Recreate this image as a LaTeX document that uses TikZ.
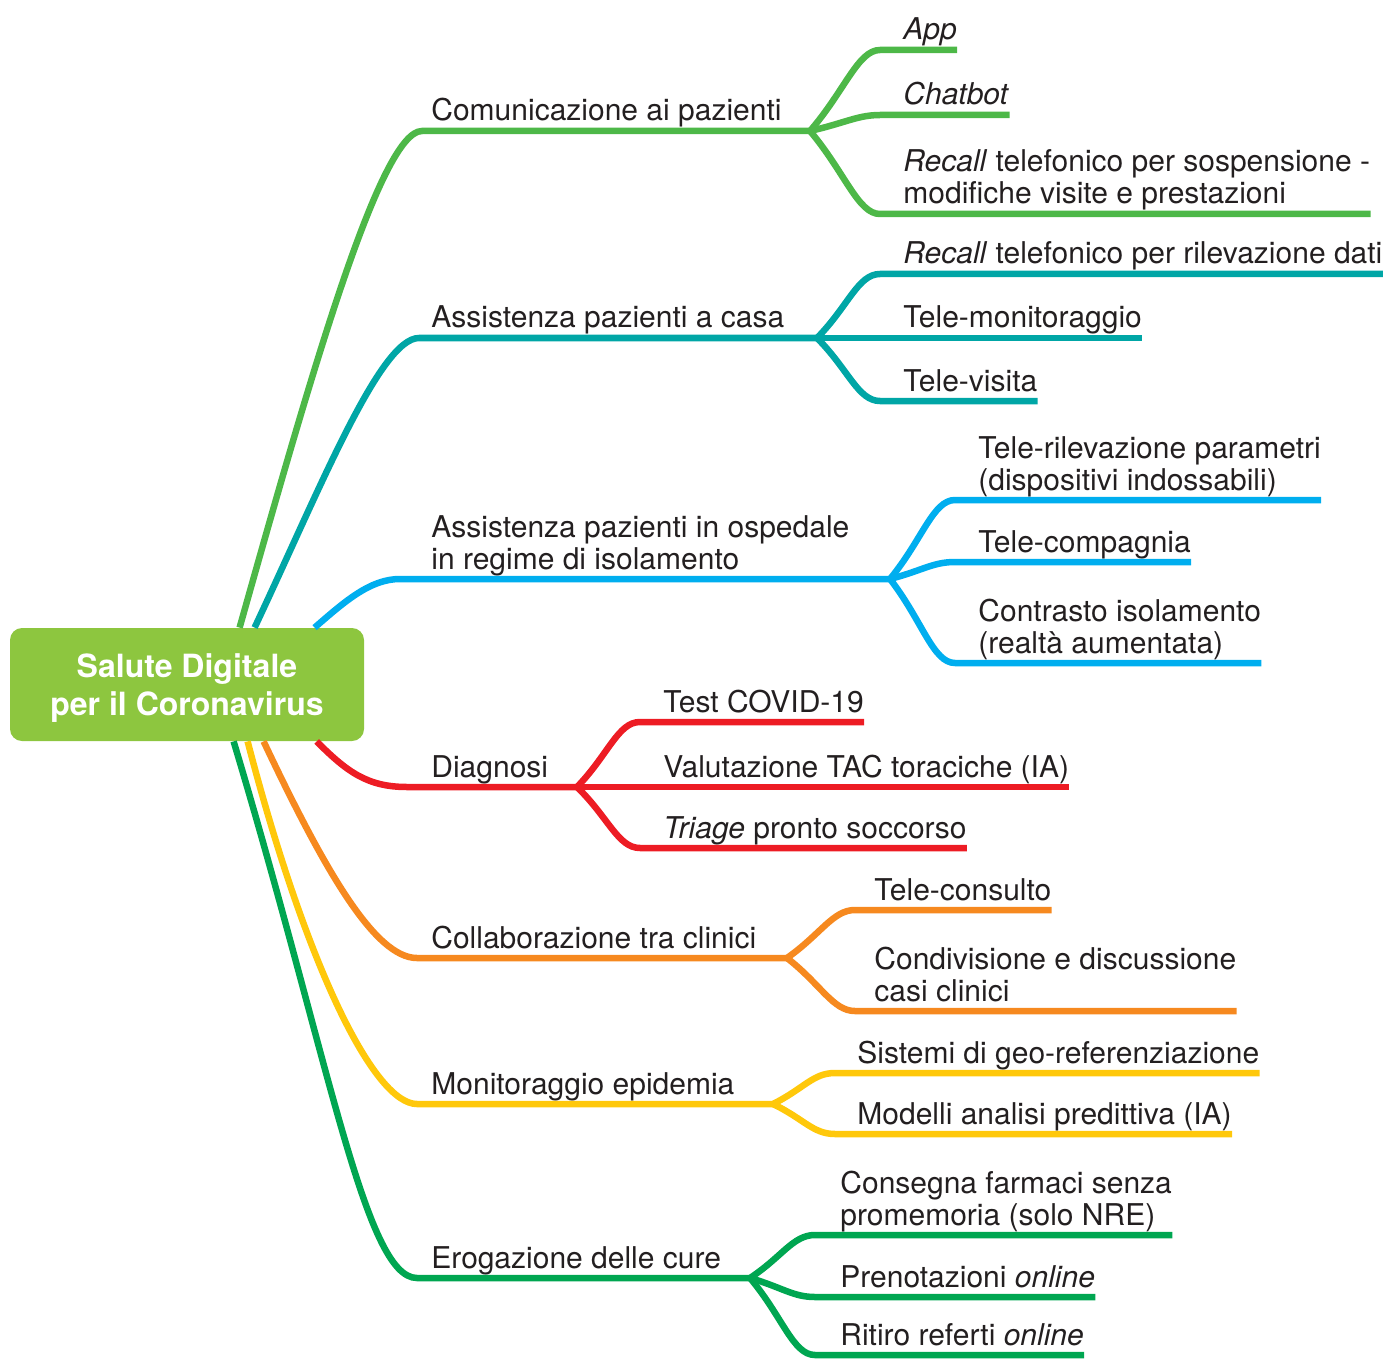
\documentclass[tikz,border=0pt]{standalone}
\usepackage{fontspec}
\setmainfont{TeX Gyre Heros}
\usetikzlibrary{calc}
\definecolor{rootgreen}{HTML}{8DC63F}
\definecolor{cgreen}{HTML}{4DB848}
\definecolor{cteal}{HTML}{00A6A6}
\definecolor{cblue}{HTML}{00AEEF}
\definecolor{cred}{HTML}{ED1C24}
\definecolor{corange}{HTML}{F6891F}
\definecolor{cyellow}{HTML}{FFC80B}
\definecolor{cdgreen}{HTML}{00A651}
\definecolor{ink}{HTML}{231F20}
\begin{document}
\begin{tikzpicture}[x=0.5pt,y=-0.5pt]
        \tikzstyle{root}=[rectangle,rounded corners=6pt,fill=rootgreen,text=white,font=\fontsize{16}{19}\selectfont\bfseries,align=center,minimum width=177pt,minimum height=56.5pt,inner sep=0pt,text depth=-1.5pt]
        \tikzstyle{branch}=[draw,line width=3.25pt]
        \tikzstyle{topic}=[anchor=base west,inner sep=0pt,align=left,text=ink,font=\fontsize{15}{16}\selectfont]
        \tikzstyle{twig}=[to path={.. controls ($(\tikztostart)!0.5!(\tikztotarget)$) and ($(\tikztotarget)+(-22,0)$) .. (\tikztotarget)}]
        \useasboundingbox (0,0) rectangle (1390,1358);

        \node [root] (root) at (187,684.5) {Salute Digitale\\per il Coronavirus};

        % Comunicazione ai pazienti
        \coordinate (r1) at ($(root.north west)+(230,0)$);
        \coordinate (f1) at (810,131);
        \node [topic] (c1) at (431,121) {Comunicazione ai pazienti};
        \path[branch,draw=cgreen] (r1) .. controls +(70,-248) and +(-42,0) .. (f1 -| 422,0) -- (f1);
        \coordinate (t11) at (880,50);
        \coordinate (t12) at (880,115);
        \coordinate (t13) at (880,214);
        \node [topic] (c11) at (903,40) {\textit{App}};
        \node [topic] (c12) at (903,105) {\textit{Chatbot}};
        \node [topic] (c13) at (903,204) {\textit{Recall} telefonico per sospensione -\\modifiche visite e prestazioni};
        \path[branch,draw=cgreen] (f1) to[twig] (t11) -- (t11 -| c11.east);
        \path[branch,draw=cgreen] (f1) to[twig] (t12) -- (t12 -| c12.east);
        \path[branch,draw=cgreen] (f1) to[twig] (t13) -- (t13 -| c13.east);

        % Assistenza pazienti a casa
        \coordinate (r2) at ($(root.north west)+(245,0)$);
        \coordinate (f2) at (817,338);
        \node [topic] (c2) at (431,328) {Assistenza pazienti a casa};
        \path[branch,draw=cteal] (r2) .. controls +(65,-138) and +(-39,0) .. (f2 -| 419,0) -- (f2);
        \coordinate (t21) at (880,274);
        \coordinate (t22) at (880,338);
        \coordinate (t23) at (880,401);
        \node [topic] (c21) at (903,264) {\textit{Recall} telefonico per rilevazione dati};
        \node [topic] (c22) at (903,328) {Tele-monitoraggio};
        \node [topic] (c23) at (903,391) {Tele-visita};
        \path[branch,draw=cteal] (f2) to[twig] (t21) -- (t21 -| c21.east);
        \path[branch,draw=cteal] (f2) to[twig] (t22) -- (t22 -| c22.east);
        \path[branch,draw=cteal] (f2) to[twig] (t23) -- (t23 -| c23.east);

        % Assistenza pazienti in ospedale
        \coordinate (r3) at ($(root.north west)+(305,0)$);
        \coordinate (f3) at (890,579);
        \node [topic] (c3) at (431,569) {Assistenza pazienti in ospedale\\in regime di isolamento};
        \path[branch,draw=cblue] (r3) .. controls +(30,-26) and +(-30,0) .. (f3 -| 400,0) -- (f3);
        \coordinate (t31) at (955,500);
        \coordinate (t32) at (955,562);
        \coordinate (t33) at (955,663);
        \node [topic] (c31) at (978,490) {Tele-rilevazione parametri\\(dispositivi indossabili)};
        \node [topic] (c32) at (978,552) {Tele-compagnia};
        \node [topic] (c33) at (978,653) {Contrasto isolamento\\(realtà aumentata)};
        \path[branch,draw=cblue] (f3) to[twig] (t31) -- (t31 -| c31.east);
        \path[branch,draw=cblue] (f3) to[twig] (t32) -- (t32 -| c32.east);
        \path[branch,draw=cblue] (f3) to[twig] (t33) -- (t33 -| c33.east);

        % Diagnosi
        \coordinate (r4) at ($(root.south west)+(307,0)$);
        \coordinate (f4) at (577,787);
        \node [topic] (c4) at (431,777) {Diagnosi};
        \path[branch,draw=cred] (r4) .. controls +(30,30) and +(-40,0) .. (f4 -| 407,0) -- (f4);
        \coordinate (t41) at (640,722);
        \coordinate (t42) at (640,787);
        \coordinate (t43) at (640,848);
        \node [topic] (c41) at (663,712) {Test COVID-19};
        \node [topic] (c42) at (663,777) {Valutazione TAC toraciche (IA)};
        \node [topic] (c43) at (663,838) {\textit{Triage} pronto soccorso};
        \path[branch,draw=cred] (f4) to[twig] (t41) -- (t41 -| c41.east);
        \path[branch,draw=cred] (f4) to[twig] (t42) -- (t42 -| c42.east);
        \path[branch,draw=cred] (f4) to[twig] (t43) -- (t43 -| c43.east);

        % Collaborazione tra clinici
        \coordinate (r5) at ($(root.south west)+(254,0)$);
        \coordinate (f5) at (787,958);
        \node [topic] (c5) at (431,948) {Collaborazione tra clinici};
        \path[branch,draw=corange] (r5) .. controls +(61,129) and +(-42,0) .. (f5 -| 417,0) -- (f5);
        \coordinate (t51) at (855,910);
        \coordinate (t52) at (855,1011);
        \node [topic] (c51) at (874,900) {Tele-consulto};
        \node [topic] (c52) at (874,1001) {Condivisione e discussione\\casi clinici};
        \path[branch,draw=corange] (f5) to[twig] (t51) -- (t51 -| c51.east);
        \path[branch,draw=corange] (f5) to[twig] (t52) -- (t52 -| c52.east);

        % Monitoraggio epidemia
        \coordinate (r6) at ($(root.south west)+(238,0)$);
        \coordinate (f6) at (773,1104);
        \node [topic] (c6) at (431,1094) {Monitoraggio epidemia};
        \path[branch,draw=cyellow] (r6) .. controls +(60,230) and +(-42,0) .. (f6 -| 417,0) -- (f6);
        \coordinate (t61) at (835,1073);
        \coordinate (t62) at (835,1134);
        \node [topic] (c61) at (857,1063) {Sistemi di geo-referenziazione};
        \node [topic] (c62) at (857,1124) {Modelli analisi predittiva (IA)};
        \path[branch,draw=cyellow] (f6) to[twig] (t61) -- (t61 -| c61.east);
        \path[branch,draw=cyellow] (f6) to[twig] (t62) -- (t62 -| c62.east);

        % Erogazione delle cure
        \coordinate (r7) at ($(root.south west)+(224,0)$);
        \coordinate (f7) at (750,1278);
        \node [topic] (c7) at (431,1268) {Erogazione delle cure};
        \path[branch,draw=cdgreen] (r7) .. controls +(96,319) and +(-52,0) .. (f7 -| 417,0) -- (f7);
        \coordinate (t71) at (815,1235);
        \coordinate (t72) at (815,1297);
        \coordinate (t73) at (815,1355);
        \node [topic] (c71) at (840,1225) {Consegna farmaci senza\\promemoria (solo NRE)};
        \node [topic] (c72) at (840,1287) {Prenotazioni \textit{online}};
        \node [topic] (c73) at (840,1345) {Ritiro referti \textit{online}};
        \path[branch,draw=cdgreen] (f7) to[twig] (t71) -- (t71 -| c71.east);
        \path[branch,draw=cdgreen] (f7) to[twig] (t72) -- (t72 -| c72.east);
        \path[branch,draw=cdgreen] (f7) to[twig] (t73) -- (t73 -| c73.east);
\end{tikzpicture}
\end{document}
